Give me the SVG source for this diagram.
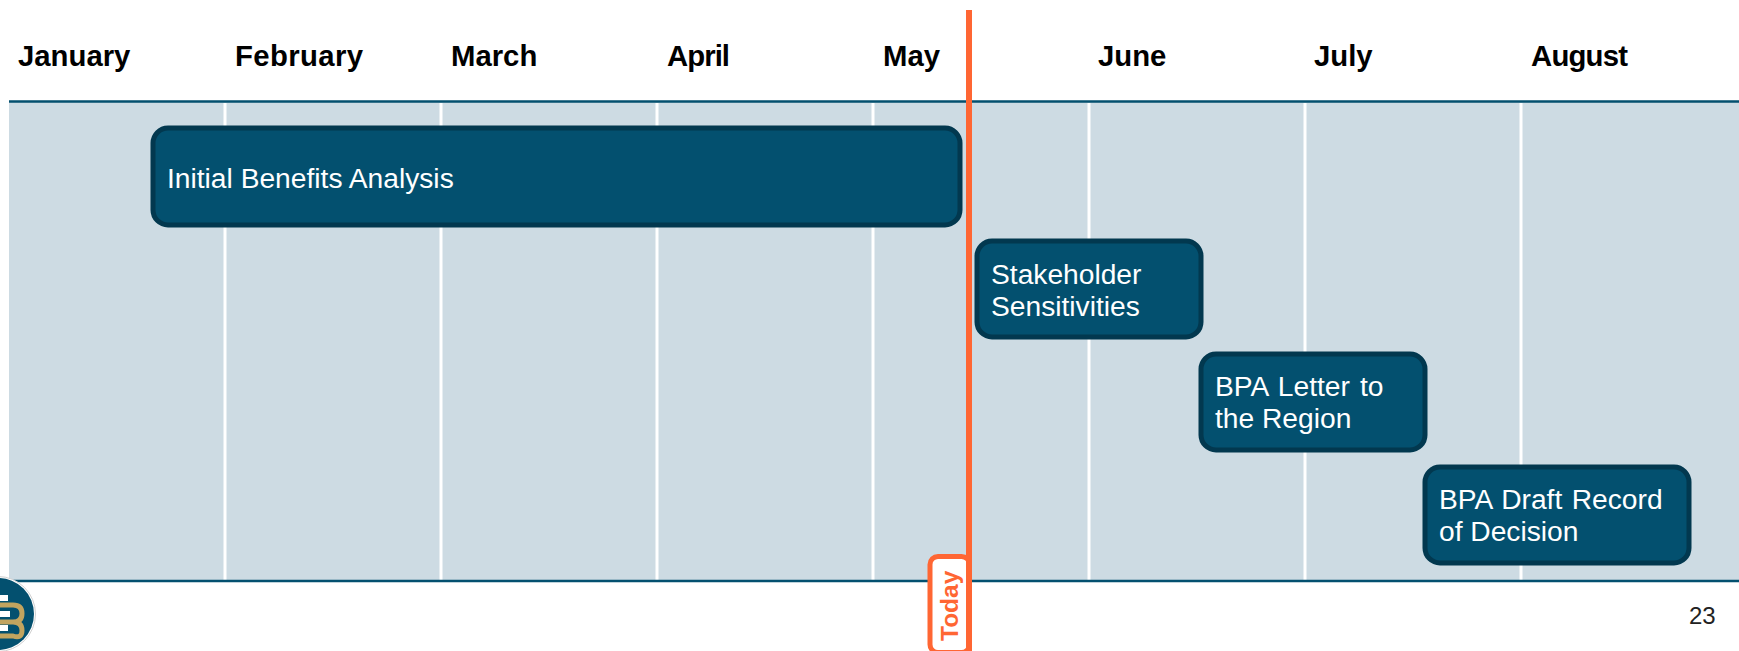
<svg xmlns="http://www.w3.org/2000/svg" width="1739" height="651" viewBox="0 0 1739 651">
<style>
.m{font-family:"Liberation Sans",Arial,sans-serif;font-size:29.300px;font-weight:700;fill:#000}
.t{font-family:"Liberation Sans",Arial,sans-serif;font-size:28.200px;fill:#fff}
.b{fill:#03506f;stroke:#02384f;stroke-width:5}
.g{stroke:#fff;stroke-width:3}
</style>
<rect width="1739" height="651" fill="#fff"/>
<rect x="9" y="101" width="1730" height="480" fill="#cddbe3"/>
<g id="gridlines">
<path class="g" d="M225 103V580M441 103V580M657 103V580M873 103V580M1089 103V580M1305 103V580M1521 103V580"/>
</g>
<g id="axis">
<path d="M9 101.500H1739M9 581H1739" stroke="#03506f" stroke-width="2.500" fill="none"/>
</g>
<g id="months">
<text class="m" x="18" y="66">January</text>
<text class="m" x="235" y="66" textLength="128">February</text>
<text class="m" x="451" y="66">March</text>
<text class="m" x="667" y="66" textLength="63">April</text>
<text class="m" x="883" y="66">May</text>
<text class="m" x="1098" y="66">June</text>
<text class="m" x="1314" y="66">July</text>
<text class="m" x="1531" y="66" textLength="97">August</text>
</g>
<g id="node-initial">
<rect class="b" x="153" y="128" width="807" height="97" rx="15"/>
<text class="t" x="167" y="188">Initial Benefits Analysis</text>
</g>
<g id="node-stakeholder">
<rect class="b" x="977" y="241" width="224" height="96" rx="15"/>
<text class="t" x="991" y="284">Stakeholder</text>
<text class="t" x="991" y="316">Sensitivities</text>
</g>
<g id="node-letter">
<rect class="b" x="1201" y="354" width="224" height="96" rx="15"/>
<text class="t" x="1215" y="396" word-spacing="2.200">BPA Letter to</text>
<text class="t" x="1215" y="428">the Region</text>
</g>
<g id="node-decision">
<rect class="b" x="1425" y="467" width="264" height="96" rx="15"/>
<text class="t" x="1439" y="509" word-spacing="1.600">BPA Draft Record</text>
<text class="t" x="1439" y="541">of Decision</text>
</g>
<g id="today">
<rect x="930" y="556.500" width="39.500" height="96" rx="8" fill="#fff" stroke="#ff6633" stroke-width="5"/>
<rect x="966" y="10" width="6" height="641" fill="#ff6633"/>
<text transform="translate(958 641) rotate(-90)" font-family="'Liberation Sans',Arial,sans-serif" font-size="24.500" font-weight="700" fill="#ff6633">Today</text>
</g>
<g id="logo">
<circle cx="-2" cy="614" r="37.500" fill="#fff" stroke="#d0d0d0" stroke-width="1"/>
<circle cx="-2" cy="614" r="36" fill="#03506f"/>
<path d="M0 605H13Q22 605 22 613.500Q22 622 13 622H0M13 622Q22 622 22 630.500Q22 639 13 636H0" fill="none" stroke="#c2a45f" stroke-width="5"/>
<path d="M0 598H8M0 614H10M0 628H8" stroke="#fff" stroke-width="6" fill="none"/>
</g>
<text id="page" x="1689" y="624" font-family="'Liberation Sans',Arial,sans-serif" font-size="24" fill="#222">23</text>
</svg>
